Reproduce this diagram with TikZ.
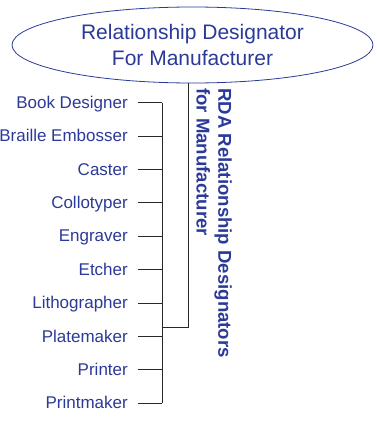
\documentclass[tikz,border=0pt]{standalone}
\usepackage{fontspec}
\setmainfont{Liberation Sans}
\usetikzlibrary{shapes.geometric}
\definecolor{rdablue}{RGB}{43,58,152}
\definecolor{lncol}{RGB}{40,40,40}
\begin{document}
\begin{tikzpicture}[x=1pt,y=1pt,
  lbl/.style={anchor=base east,inner sep=0pt,text=rdablue,font=\fontsize{17}{20}\selectfont},
  conn/.style={draw=lncol,line width=0.9pt},
  title/.style={draw=rdablue,line width=0.8pt,ellipse,inner sep=0pt,minimum width=361pt,minimum height=76pt,
    align=center,text=rdablue,font=\fontsize{21}{25.6}\selectfont},
  side/.style={rotate=-90,anchor=north west,inner sep=0pt,align=left,text=rdablue,
    font=\bfseries\fontsize{18.6}{21.7}\selectfont}]
\useasboundingbox (0,0) rectangle (377,-423);
\node[title] (ell) at (192.5,-45) {Relationship Designator\\For Manufacturer};
\node[side] (rot) at (232,-88) {RDA Relationship Designators\\for Manufacturer};
\foreach \i/\t in {1/Book Designer,2/Braille Embosser,3/Caster,4/Collotyper,5/Engraver,6/Etcher,7/Lithographer,8/Platemaker,9/Printer,10/Printmaker}{
  \pgfmathsetmacro{\yy}{-102.7-33.4*(\i-1)}
  \coordinate (t\i) at (162,\yy);
  \coordinate (s\i) at (138,\yy);
  \node[lbl] (n\i) at (128,\yy-5.5) {\t};
  \draw[conn] (s\i) -- (t\i);
}
\draw[conn] (t1) -- (t10);
\coordinate (j) at (162,-327.7);
\coordinate (k) at (188.7,-327.7);
\draw[conn] (j) -- (k) -- (k |- ell.south);
\end{tikzpicture}
\end{document}
